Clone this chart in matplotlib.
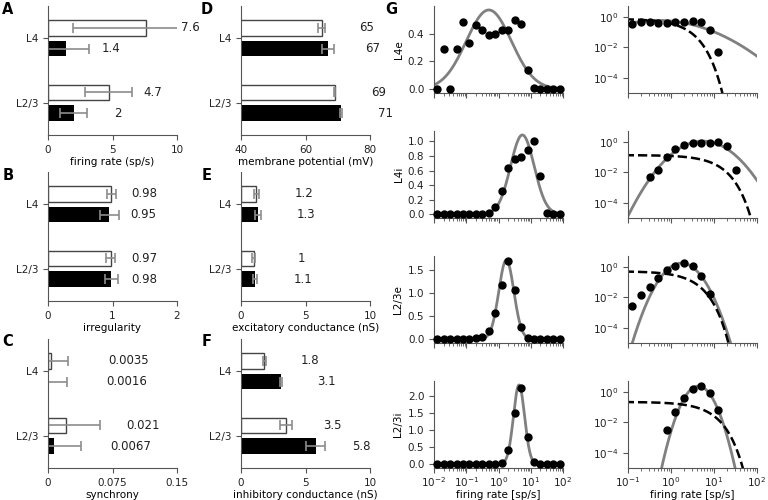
import numpy as np
import matplotlib
matplotlib.use("Agg")
import matplotlib.pyplot as plt

plt.rcParams['font.family'] = ['DejaVu Sans']
plt.rcParams['font.size'] = 7.5

# ---- bar panels, order [L4, L2/3]; white = inhibitory, black = excitatory
layers = ["L4", "L2/3"]

rate_inh = [7.6, 4.7]
rate_inh_err = [5.7, 1.8]
rate_exc = [1.4, 2.0]
rate_exc_err = [1.8, 1.05]

irr_inh = [0.98, 0.97]
irr_inh_err = [0.07, 0.07]
irr_exc = [0.95, 0.98]
irr_exc_err = [0.15, 0.10]

sync_inh = [0.0035, 0.021]
sync_inh_err = [0.020, 0.0395]
sync_exc = [0.0016, 0.0067]
sync_exc_err = [0.020, 0.0317]

vm_inh = [65, 69]
vm_inh_err = [1.1, 0.3]
vm_exc = [67, 71]
vm_exc_err = [1.9, 0.3]

gex_inh = [1.2, 1.0]
gex_inh_err = [0.17, 0.12]
gex_exc = [1.3, 1.1]
gex_exc_err = [0.25, 0.15]

gin_inh = [1.8, 3.5]
gin_inh_err = [0.1, 0.47]
gin_exc = [3.1, 5.8]
gin_exc_err = [0.1, 0.75]

# ---- rate distributions (density over log10 rate bins)
pops = ["L4e", "L4i", "L2/3e", "L2/3i"]
log_bins = [-1.9, -1.7, -1.5, -1.3, -1.1, -0.9, -0.7, -0.5, -0.3, -0.1,
            0.1, 0.3, 0.5, 0.7, 0.9, 1.1, 1.3, 1.5, 1.7, 1.9]
hist_L4e = [0, 0.286, 0, 0.286, 0.483, 0.333, 0.46, 0.424, 0.388, 0.40,
            0.429, 0.424, 0.495, 0.467, 0.138, 0.005, 0, 0, 0, 0]
hist_L4i = [0, 0, 0, 0, 0, 0, 0, 0.0046, 0.0145, 0.095,
            0.317, 0.633, 0.76, 0.783, 0.882, 1.0, 0.52, 0.013, 0, 0]
hist_L23e = [0, 0, 0, 0, 0, 0.0027, 0.0135, 0.044, 0.18, 0.57,
             1.18, 1.70, 1.06, 0.25, 0.016, 0, 0, 0, 0, 0]
hist_L23i = [0, 0, 0, 0, 0, 0, 0, 0, 0, 0.003,
             0.045, 0.40, 1.49, 2.22, 0.78, 0.065, 0, 0, 0, 0]
# lognormal fit (mean / sd of log10 rate) and mean rate for exponential
fit_mu = [-0.30, 0.74, 0.243, 0.636]
fit_sigma = [0.70, 0.366, 0.233, 0.172]
mean_rate = [1.4, 7.6, 2.0, 4.7]
lin_yticks = [[0.0, 0.2, 0.4], [0.0, 0.2, 0.4, 0.6, 0.8, 1.0],
              [0.0, 0.5, 1.0, 1.5], [0.0, 0.5, 1.0, 1.5, 2.0]]

W, H = 768.0, 500.0
fig = plt.figure(figsize=(W / 100, H / 100), dpi=100)

spine_c = '#555555'


def rect(x0, top, w, h):
    return [x0 / W, 1 - (top + h) / H, w / W, h / H]


def style(ax):
    ax.spines['top'].set_visible(False)
    ax.spines['right'].set_visible(False)
    for s in ['left', 'bottom']:
        ax.spines[s].set_color(spine_c)
    ax.tick_params(colors=spine_c, labelcolor='#222222', which='both')


def bar_panel(ax, inh, inh_err, exc, exc_err, xlim, xticks, xticklabels, xlabel, dx):
    y = np.array([1.0, 0.0])
    ekw = dict(ecolor='#8c8c8c', elinewidth=1.2, capsize=3.5, capthick=1.2)
    ax.barh(y + 0.16, inh, height=0.235, color='white', edgecolor='#444444',
            linewidth=1, xerr=inh_err, error_kw=ekw)
    ax.barh(y - 0.16, exc, height=0.235, color='black', xerr=exc_err, error_kw=ekw)
    for yy, v in zip(y + 0.16, inh):
        ax.text(v + dx, yy, f"{v:g}", ha='center', va='center', fontsize=8.5, color='#222222')
    for yy, v in zip(y - 0.16, exc):
        ax.text(v + dx, yy, f"{v:g}", ha='center', va='center', fontsize=8.5, color='#222222')
    ax.set_xlim(xlim)
    ax.set_ylim(-0.5, 1.5)
    ax.set_xticks(xticks)
    ax.set_xticklabels(xticklabels)
    ax.set_yticks(y)
    ax.set_yticklabels(layers)
    ax.set_xlabel(xlabel, labelpad=1.5)
    style(ax)


tops = [6, 172, 339]
h = 129
axA = fig.add_axes(rect(48, tops[0], 129, h))
bar_panel(axA, rate_inh, rate_inh_err, rate_exc, rate_exc_err, (0, 10), [0, 5, 10],
          ['0', '5', '10'], 'firing rate (sp/s)', 3.45)
axB = fig.add_axes(rect(48, tops[1], 129, h))
bar_panel(axB, irr_inh, irr_inh_err, irr_exc, irr_exc_err, (0, 2), [0, 1, 2],
          ['0', '1', '2'], 'irregularity', 0.52)
axC = fig.add_axes(rect(48, tops[2], 129, h))
bar_panel(axC, sync_inh, sync_inh_err, sync_exc, sync_exc_err, (0, 0.15), [0, 0.075, 0.15],
          ['0', '0.075', '0.15'], 'synchrony', 0.09)
axD = fig.add_axes(rect(241, tops[0], 129, h))
bar_panel(axD, vm_inh, vm_inh_err, vm_exc, vm_exc_err, (40, 80), [40, 60, 80],
          ['40', '60', '80'], 'membrane potential (mV)', 13.8)
axE = fig.add_axes(rect(241, tops[1], 129, h))
bar_panel(axE, gex_inh, gex_inh_err, gex_exc, gex_exc_err, (0, 10), [0, 5, 10],
          ['0', '5', '10'], 'excitatory conductance (nS)', 3.7)
axF = fig.add_axes(rect(241, tops[2], 129, h))
bar_panel(axF, gin_inh, gin_inh_err, gin_exc, gin_exc_err, (0, 10), [0, 5, 10],
          ['0', '5', '10'], 'inhibitory conductance (nS)', 3.55)

# ---- G: distributions
hists = [hist_L4e, hist_L4i, hist_L23e, hist_L23i]
bins = 10 ** np.array(log_bins)
r = np.logspace(-2, 2, 500)
g_tops = [6, 131, 256, 381]
gh = 87
for k, name in enumerate(pops):
    vals = np.array(hists[k])
    mu, sd = fit_mu[k], fit_sigma[k]
    gauss = np.exp(-(np.log10(r) - mu) ** 2 / (2 * sd ** 2)) / (sd * np.sqrt(2 * np.pi))
    lam = 1.0 / mean_rate[k]
    expo = lam * np.exp(-lam * r)

    ax1 = fig.add_axes(rect(434, g_tops[k], 129, gh))
    ax1.plot(r, gauss, color='#808080', lw=2, zorder=2)
    ax1.plot(bins, vals, 'o', color='black', ms=5, zorder=3, clip_on=False)
    ax1.set_xscale('log')
    ax1.set_xlim(1e-2, 1e2)
    ax1.set_xticks([1e-2, 1e-1, 1e0, 1e1, 1e2])
    yt = lin_yticks[k]
    ax1.set_yticks(yt)
    ax1.set_yticklabels([f"{t:.1f}" for t in yt])
    top = max(gauss.max(), vals.max())
    ax1.set_ylim(-0.05 * top, 1.05 * top)
    ax1.set_ylabel(name, labelpad=3)
    style(ax1)

    ax2 = fig.add_axes(rect(628, g_tops[k], 129, gh))
    ax2.plot(r, gauss, color='#808080', lw=2, zorder=2)
    ax2.plot(r, expo, '--', color='black', lw=1.8, zorder=2)
    nz = vals > 0
    ax2.plot(bins[nz], vals[nz], 'o', color='black', ms=5, zorder=3)
    ax2.set_xscale('log')
    ax2.set_yscale('log')
    ax2.set_xlim(1e-1, 1e2)
    ax2.set_ylim(1e-5, 5)
    ax2.set_xticks([1e-1, 1e0, 1e1, 1e2])
    ax2.set_yticks([1e-4, 1e-2, 1e0])
    ax2.yaxis.set_minor_locator(matplotlib.ticker.NullLocator())
    style(ax2)

    if k < 3:
        ax1.set_xticklabels([])
        ax2.set_xticklabels([])
    else:
        for a in (ax1, ax2):
            a.tick_params(axis='x', pad=2)
            a.set_xlabel('firing rate [sp/s]', labelpad=0.5)

# panel letters
for lab, x, y in [('A', 8, 9), ('B', 8, 175), ('C', 8, 342),
                  ('D', 207, 9), ('E', 207, 175), ('F', 207, 342), ('G', 391, 9)]:
    fig.text(x / W, 1 - y / H, lab, fontsize=10.5, fontweight='bold', ha='center', va='center')

fig.savefig('out.png', dpi=100)
